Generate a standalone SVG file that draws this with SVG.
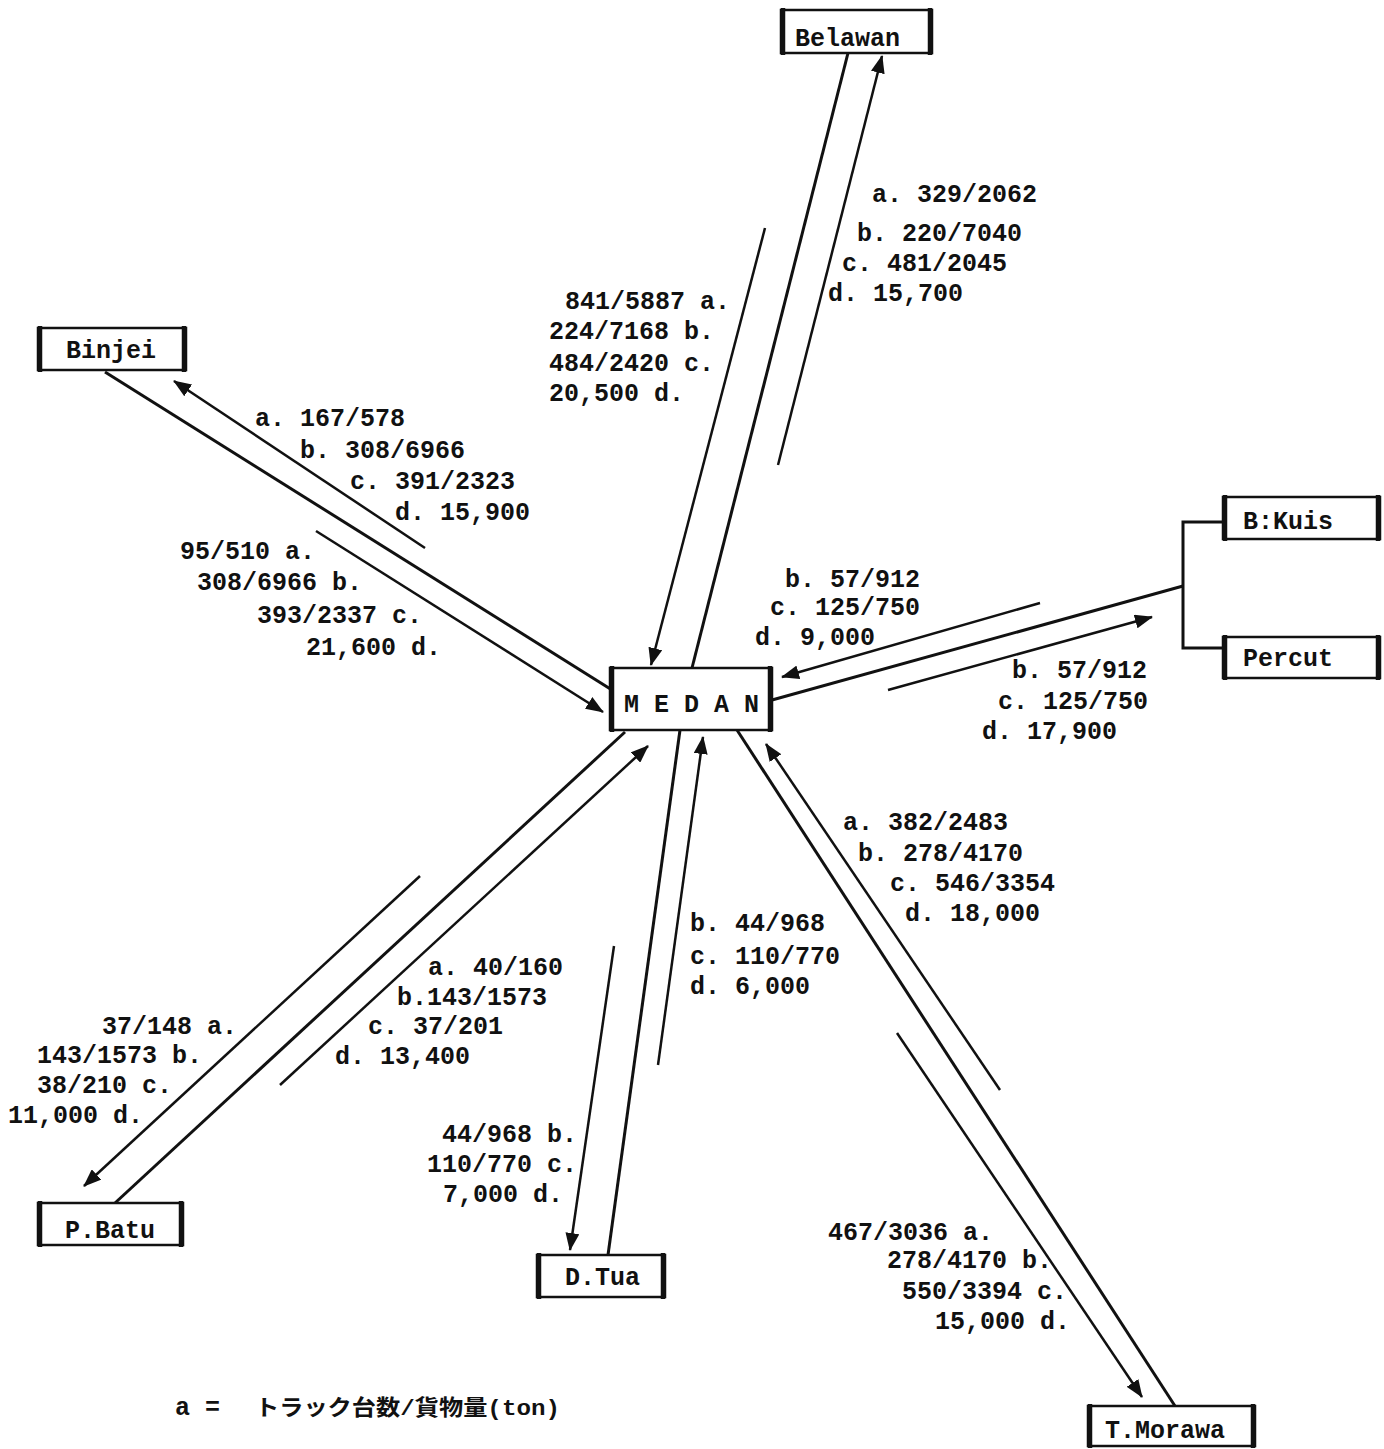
<svg xmlns="http://www.w3.org/2000/svg" width="1384" height="1449" viewBox="0 0 1384 1449">
<style>
text{font-family:"Liberation Mono","DejaVu Sans Mono",monospace;font-weight:bold;font-size:25px;fill:#111}
.box{fill:#fff;stroke:#111;stroke-width:2.5}
.side{stroke:#111;stroke-width:4.5}
.main{stroke:#111;stroke-width:3;fill:none}
.off{stroke:#111;stroke-width:2.5;fill:none}
.arr{marker-end:url(#ah)}
.jp{font-family:"Liberation Mono","Noto Sans CJK JP",sans-serif;font-size:22px}
</style>
<defs>
<marker id="ah" viewBox="0 0 18 14" refX="17" refY="7" markerWidth="18" markerHeight="14" markerUnits="userSpaceOnUse" orient="auto"><path d="M0,0 L18,7 L0,14 z" fill="#111"/></marker>
</defs>
<rect width="1384" height="1449" fill="#fff"/>
<g id="connectors">
<line class="main" x1="848" y1="53" x2="692" y2="668"/>
<line class="off arr" x1="765" y1="228" x2="651" y2="665"/>
<line class="off arr" x1="778" y1="465" x2="882" y2="56"/>
<line class="main" x1="105" y1="372" x2="612" y2="690"/>
<line class="off arr" x1="425" y1="548" x2="174" y2="381"/>
<line class="off arr" x1="316" y1="531" x2="603" y2="712"/>
<line class="main" x1="772" y1="700" x2="1183" y2="586"/>
<line class="off arr" x1="1040" y1="603" x2="782" y2="677"/>
<line class="off arr" x1="888" y1="690" x2="1152" y2="617"/>
<polyline class="main" points="1223,522 1183,522 1183,648 1223,648"/>
<line class="main" x1="115" y1="1203" x2="625" y2="732"/>
<line class="off arr" x1="420" y1="876" x2="84" y2="1186"/>
<line class="off arr" x1="280" y1="1085" x2="648" y2="746"/>
<line class="main" x1="608" y1="1255" x2="680" y2="730"/>
<line class="off arr" x1="614" y1="946" x2="570" y2="1250"/>
<line class="off arr" x1="658" y1="1065" x2="703" y2="737"/>
<line class="main" x1="737" y1="730" x2="1175" y2="1406"/>
<line class="off arr" x1="1000" y1="1090" x2="766" y2="744"/>
<line class="off arr" x1="897" y1="1033" x2="1142" y2="1397"/>
</g>
<g id="belawan"><rect class="box" x="781" y="10" width="151" height="43"/><line class="side" x1="783" y1="8" x2="783" y2="55"/><line class="side" x1="930" y1="8" x2="930" y2="55"/><text x="795" y="46">Belawan</text></g>
<g id="binjei"><rect class="box" x="38" y="328" width="148" height="42"/><line class="side" x1="40" y1="326" x2="40" y2="372"/><line class="side" x1="184" y1="326" x2="184" y2="372"/><text x="66" y="358">Binjei</text></g>
<g id="medan"><rect class="box" x="610" y="668" width="162" height="62"/><line class="side" x1="612" y1="666" x2="612" y2="732"/><line class="side" x1="770" y1="666" x2="770" y2="732"/><text x="624" y="712">M E D A N</text></g>
<g id="bkuis"><rect class="box" x="1223" y="497" width="157" height="42"/><line class="side" x1="1225" y1="495" x2="1225" y2="541"/><line class="side" x1="1378" y1="495" x2="1378" y2="541"/><text x="1243" y="529">B:Kuis</text></g>
<g id="percut"><rect class="box" x="1223" y="637" width="157" height="41"/><line class="side" x1="1225" y1="635" x2="1225" y2="680"/><line class="side" x1="1378" y1="635" x2="1378" y2="680"/><text x="1243" y="666">Percut</text></g>
<g id="pbatu"><rect class="box" x="38" y="1203" width="145" height="42"/><line class="side" x1="40" y1="1201" x2="40" y2="1247"/><line class="side" x1="181" y1="1201" x2="181" y2="1247"/><text x="65" y="1238">P.Batu</text></g>
<g id="dtua"><rect class="box" x="537" y="1255" width="128" height="42"/><line class="side" x1="539" y1="1253" x2="539" y2="1299"/><line class="side" x1="663" y1="1253" x2="663" y2="1299"/><text x="565" y="1285">D.Tua</text></g>
<g id="tmorawa"><rect class="box" x="1088" y="1406" width="167" height="40"/><line class="side" x1="1090" y1="1404" x2="1090" y2="1448"/><line class="side" x1="1253" y1="1404" x2="1253" y2="1448"/><text x="1105" y="1438">T.Morawa</text></g>
<g id="labels">
<text x="872" y="202">a. 329/2062</text>
<text x="857" y="241">b. 220/7040</text>
<text x="842" y="271">c. 481/2045</text>
<text x="828" y="301">d. 15,700</text>
<text x="565" y="309">841/5887 a.</text>
<text x="549" y="339">224/7168 b.</text>
<text x="549" y="371">484/2420 c.</text>
<text x="549" y="401">20,500 d.</text>
<text x="255" y="426">a. 167/578</text>
<text x="300" y="458">b. 308/6966</text>
<text x="350" y="489">c. 391/2323</text>
<text x="395" y="520">d. 15,900</text>
<text x="180" y="559">95/510 a.</text>
<text x="197" y="590">308/6966 b.</text>
<text x="257" y="623">393/2337 c.</text>
<text x="306" y="655">21,600 d.</text>
<text x="785" y="587">b. 57/912</text>
<text x="770" y="615">c. 125/750</text>
<text x="755" y="645">d. 9,000</text>
<text x="1012" y="678">b. 57/912</text>
<text x="998" y="709">c. 125/750</text>
<text x="982" y="739">d. 17,900</text>
<text x="843" y="830">a. 382/2483</text>
<text x="858" y="861">b. 278/4170</text>
<text x="890" y="891">c. 546/3354</text>
<text x="905" y="921">d. 18,000</text>
<text x="828" y="1240">467/3036 a.</text>
<text x="887" y="1268">278/4170 b.</text>
<text x="902" y="1299">550/3394 c.</text>
<text x="935" y="1329">15,000 d.</text>
<text x="690" y="931">b. 44/968</text>
<text x="690" y="964">c. 110/770</text>
<text x="690" y="994">d. 6,000</text>
<text x="442" y="1142">44/968 b.</text>
<text x="427" y="1172">110/770 c.</text>
<text x="443" y="1202">7,000 d.</text>
<text x="428" y="975">a. 40/160</text>
<text x="397" y="1005">b.143/1573</text>
<text x="368" y="1034">c. 37/201</text>
<text x="335" y="1064">d. 13,400</text>
<text x="102" y="1034">37/148 a.</text>
<text x="37" y="1063">143/1573 b.</text>
<text x="37" y="1093">38/210 c.</text>
<text x="8" y="1123">11,000 d.</text>
</g>
<g id="legend">
<text x="175" y="1415">a =</text>
<text class="jp" x="255" y="1415" textLength="305" lengthAdjust="spacingAndGlyphs">トラック台数/貨物量(ton)</text>
</g>
</svg>
